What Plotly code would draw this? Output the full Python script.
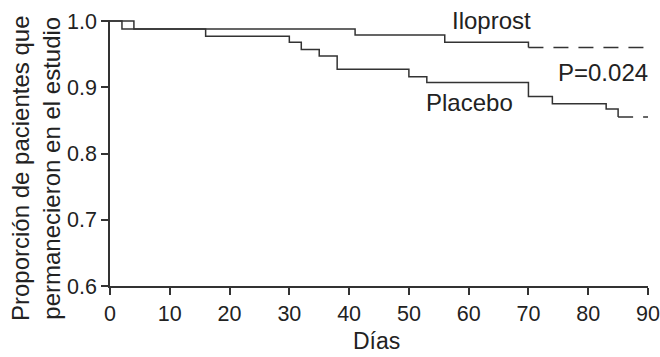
import plotly.graph_objects as go

# Kaplan-Meier style data (days, proportion remaining)
ilo_times = [0, 4, 41, 56, 70]
ilo_surv = [1.0, 0.988, 0.979, 0.968, 0.960]
pla_times = [0, 2, 16, 30, 32, 35, 38, 50, 53, 70, 74, 83, 85]
pla_surv = [1.0, 0.988, 0.977, 0.968, 0.957, 0.947, 0.927, 0.916, 0.907, 0.886, 0.875, 0.867, 0.855]
end_day = 90

x_ticks = [0, 10, 20, 30, 40, 50, 60, 70, 80, 90]
y_ticks = [0.6, 0.7, 0.8, 0.9, 1.0]

LINE = "#333333"
TXT = "#222222"
FONT = "Liberation Sans, Arial, sans-serif"

fig = go.Figure()
for t, s in ((ilo_times, ilo_surv), (pla_times, pla_surv)):
    # solid step curve up to last event
    fig.add_trace(go.Scatter(x=t, y=s, mode="lines", line=dict(shape="hv", color=LINE, width=1.5),
                             showlegend=False, hoverinfo="skip"))
    # dashed tail after last event
    fig.add_trace(go.Scatter(x=[t[-1], end_day], y=[s[-1], s[-1]], mode="lines",
                             line=dict(color=LINE, width=1.5, dash="15px,10px"),
                             showlegend=False, hoverinfo="skip"))

ax_common = dict(showline=True, linecolor=LINE, linewidth=1.5, ticks="outside", ticklen=7,
                 tickwidth=1.5, tickcolor=LINE, showgrid=False, zeroline=False,
                 ticklabeloverflow="allow", automargin=False,
                 tickfont=dict(family=FONT, size=21.5, color=TXT))

fig.update_layout(
    width=660, height=357,
    margin=dict(l=110, r=12, t=20, b=71),
    plot_bgcolor="white", paper_bgcolor="white",
    xaxis=dict(range=[0, 90], tickvals=x_ticks, **ax_common),
    yaxis=dict(range=[0.6, 1.0015], tickvals=y_ticks, tickformat=".1f", **ax_common),
    font=dict(family=FONT, color=TXT),
)

ann_font = dict(family=FONT, size=24, color=TXT)
fig.add_annotation(text="Iloprost", xref="paper", yref="paper", x=0.709, y=1.0,
                   xanchor="center", yanchor="middle", showarrow=False, font=ann_font)
fig.add_annotation(text="P=0.024", xref="paper", yref="paper", x=1.0037, y=0.802,
                   xanchor="right", yanchor="middle", showarrow=False, font=ann_font)
fig.add_annotation(text="Placebo", xref="paper", yref="paper", x=0.669, y=0.69,
                   xanchor="center", yanchor="middle", showarrow=False, font=ann_font)
fig.add_annotation(text="Días", xref="paper", yref="paper", x=0.4954, y=-0.2086,
                   xanchor="center", yanchor="middle", showarrow=False,
                   font=dict(family=FONT, size=23, color=TXT))
fig.add_annotation(text="Proporción de pacientes que<br>permanecieron en el estudio",
                   xref="paper", yref="paper", x=-0.1375, y=0.4436, textangle=-90,
                   xanchor="center", yanchor="middle", showarrow=False, font=ann_font)

fig.write_html("out.html", config={"displayModeBar": False},
               post_script="document.body.style.margin='0px';document.body.style.overflow='hidden';")
